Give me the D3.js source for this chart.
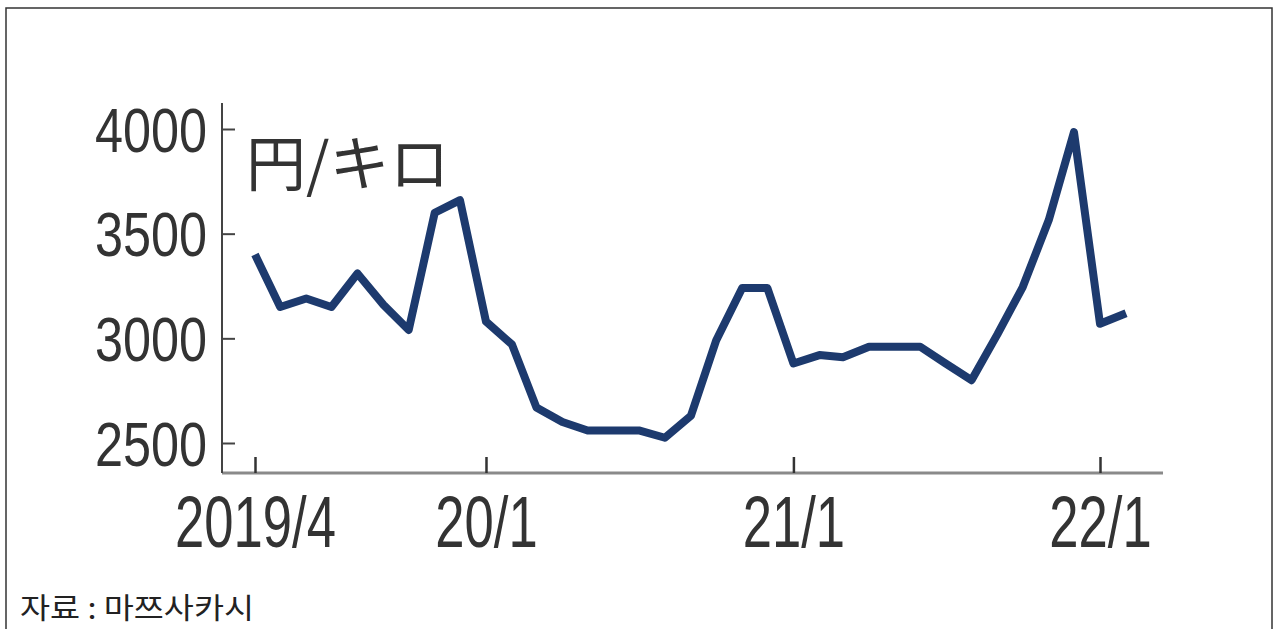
<!DOCTYPE html>
<html>
<head>
<meta charset="utf-8">
<script src="https://cdn.jsdelivr.net/npm/d3@7"></script>
<style>
  body { margin: 0; background: #fff; }
  svg { display: block; }
</style>
</head>
<body>
<div id="chart"></div>
<script>
// monthly price, 2019/4 .. 2022/2 (円/キロ)
const months = [
  "2019-04", "2019-05", "2019-06", "2019-07", "2019-08", "2019-09", "2019-10", "2019-11", "2019-12",
  "2020-01", "2020-02", "2020-03", "2020-04", "2020-05", "2020-06", "2020-07", "2020-08", "2020-09", "2020-10", "2020-11", "2020-12",
  "2021-01", "2021-02", "2021-03", "2021-04", "2021-05", "2021-06", "2021-07", "2021-08", "2021-09", "2021-10", "2021-11", "2021-12",
  "2022-01", "2022-02"
];
const prices = [
  3400, 3150, 3190, 3150, 3310, 3160, 3040, 3600, 3660,
  3080, 2970, 2670, 2600, 2560, 2560, 2560, 2525, 2630, 2990, 3240, 3240,
  2880, 2920, 2910, 2960, 2960, 2960, 2880, 2800, 3020, 3245, 3565, 3985,
  3070, 3120
];
const xTicks = ["2019-04", "2020-01", "2021-01", "2022-01"];
const xTickLabels = ["2019/4", "20/1", "21/1", "22/1"];
const yTicks = [2500, 3000, 3500, 4000];
const unitLabel = "円/キロ";
const sourceLabel = "자료 : 마쯔사카시";

const W = 1275, H = 629;
const lineColor = "#1d3a6e";
const parseMonth = d3.timeParse("%Y-%m");

const data = months.map((m, i) => ({ date: parseMonth(m), value: prices[i] }));

const svg = d3.select("#chart").append("svg")
  .attr("width", W).attr("height", H);

// frame
svg.append("rect")
  .attr("x", 6).attr("y", 8)
  .attr("width", 1266).attr("height", 640)
  .attr("fill", "none").attr("stroke", "#333").attr("stroke-width", 1.5);

const x = d3.scaleTime()
  .domain([parseMonth("2019-04"), parseMonth("2022-01")])
  .range([255, 1100]);
const y = d3.scaleLinear().domain([2500, 4000]).range([443, 129]);

const axisX = 222, axisY = 473;

// squeeze text horizontally (condensed look)
function condense(sel, factor) {
  sel.each(function () {
    const len = this.getComputedTextLength();
    d3.select(this)
      .attr("textLength", len * factor)
      .attr("lengthAdjust", "spacingAndGlyphs");
  });
}

//y-axis
const gy = svg.append("g")
  .attr("transform", "translate(" + axisX + ",0)")
  .call(d3.axisLeft(y).tickValues(yTicks).tickSize(-13).tickPadding(15).tickFormat(d3.format("d")));
gy.select(".domain").remove();
gy.selectAll(".tick line").attr("stroke", "#444").attr("stroke-width", 2);
gy.selectAll(".tick text")
  .attr("dy", null)
  .attr("y", 22)
  .attr("fill", "#333")
  .style("font-family", "'Liberation Sans', Arial, sans-serif")
  .style("font-size", "63px")
  .call(condense, 0.8);
svg.append("line")
  .attr("x1", axisX).attr("x2", axisX)
  .attr("y1", 103).attr("y2", axisY)
  .attr("stroke", "#444").attr("stroke-width", 2);

//x-axis
const gx = svg.append("g")
  .attr("transform", "translate(0," + axisY + ")")
  .call(d3.axisBottom(x)
    .tickValues(xTicks.map(parseMonth))
    .tickSize(-16)
    .tickFormat((d, i) => xTickLabels[i]));
gx.select(".domain").remove();
gx.selectAll(".tick line").attr("stroke", "#333").attr("stroke-width", 2.5);
gx.selectAll(".tick text")
  .attr("dy", null)
  .attr("y", 74)
  .attr("fill", "#333")
  .style("font-family", "'Liberation Sans', Arial, sans-serif")
  .style("font-size", "72px")
  .call(condense, 0.73);
svg.insert("line", "g")
  .attr("x1", axisX).attr("x2", 1163)
  .attr("y1", axisY).attr("y2", axisY)
  .attr("stroke", "#8a8a8a").attr("stroke-width", 3);

// unit label
svg.append("text")
  .attr("x", 246).attr("y", 186)
  .attr("fill", "#333")
  .style("font-family", "'Noto Sans CJK JP', sans-serif")
  .style("font-size", "60px")
  .text(unitLabel);

// price line
svg.append("path")
  .datum(data)
  .attr("fill", "none")
  .attr("stroke", lineColor)
  .attr("stroke-width", 8)
  .attr("stroke-linejoin", "round")
  .attr("stroke-linecap", "butt")
  .attr("d", d3.line().x(d => x(d.date)).y(d => y(d.value)));

// source
svg.append("text")
  .attr("x", 20).attr("y", 619)
  .attr("fill", "#222")
  .style("font-family", "'Noto Sans CJK KR', sans-serif")
  .style("font-size", "29px")
  .text(sourceLabel)
  .attr("textLength", 234)
  .attr("lengthAdjust", "spacingAndGlyphs");
</script>
</body>
</html>
